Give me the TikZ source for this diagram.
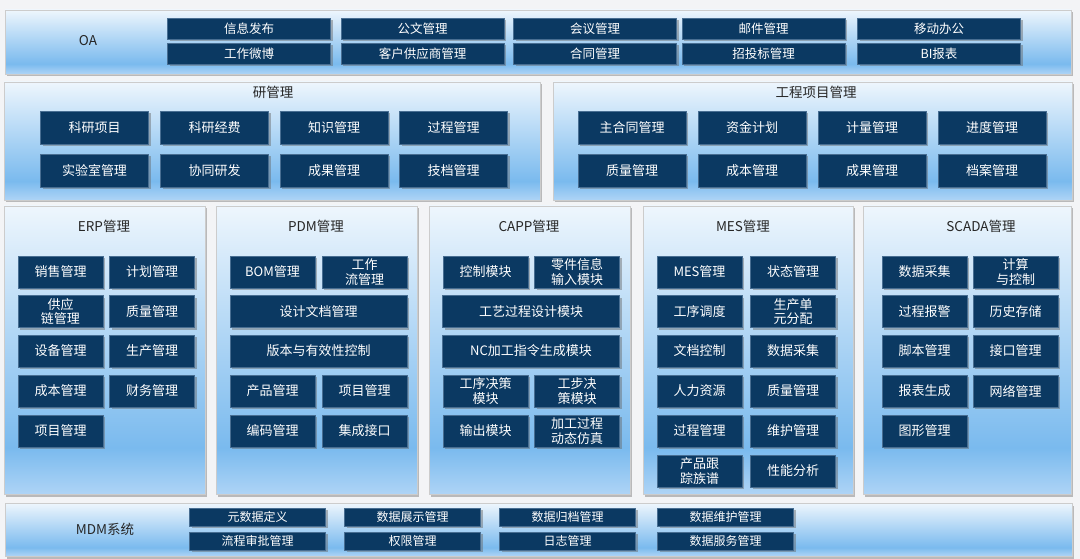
\documentclass[tikz,border=0pt]{standalone}
\usepackage{fontspec}
\setmainfont{Noto Sans CJK SC}
\usepackage{xcolor}
\usepackage{tikz}
\usetikzlibrary{shadows}
\definecolor{navy}{RGB}{11,57,98}
\definecolor{edgeblue}{RGB}{72,110,146}
\definecolor{paneltop}{RGB}{238,246,253}
\definecolor{panelmid}{RGB}{122,186,238}
\definecolor{panelbot}{RGB}{174,212,246}
\definecolor{pageback}{RGB}{243,244,246}
\pgfdeclareverticalshading{panelshade}{100bp}{color(0bp)=(panelbot); color(25bp)=(panelbot);
  color(33bp)=(panelmid); color(52bp)=(panelmid!55!paneltop); color(75bp)=(paneltop); color(100bp)=(paneltop)}

\begin{document}
\begin{tikzpicture}[x=1pt,y=-1pt,
  panel/.style={draw=gray!40, line width=.5pt, shading=panelshade,
    drop shadow={shadow xshift=2pt, shadow yshift=-2.5pt, fill=black!55, opacity=.45}},
  modbox/.style={draw=edgeblue, line width=.6pt, fill=navy, text=white, inner sep=0pt,
    align=center, minimum width=85pt, minimum height=32pt,
    font=\fontsize{13}{14.5}\selectfont,
    drop shadow={shadow xshift=2pt, shadow yshift=-2pt, fill=black!60, opacity=.45}},
  widebox/.style={modbox, minimum width=177pt},
  topbox/.style={modbox, minimum width=108pt, minimum height=33pt},
  oabox/.style={modbox, minimum width=163pt, minimum height=21pt, font=\fontsize{12.5}{14}\selectfont},
  mdmbox/.style={modbox, minimum width=136pt, minimum height=18pt, font=\fontsize{12}{13}\selectfont},
  title/.style={text=black!85, font=\fontsize{13.5}{15}\selectfont}]
  \useasboundingbox (0,0) rectangle (1080,559);
  \fill[pageback] (0,0) rectangle (1080,559);

  % panels
  \path[panel] (5,10) rectangle (1071,74);
  \path[panel] (4,82) rectangle (540,200);
  \path[panel] (553,82) rectangle (1072,200);
  \path[panel] (4,206) rectangle (205,494);
  \path[panel] (216,206) rectangle (417,494);
  \path[panel] (429,206) rectangle (630,494);
  \path[panel] (643,206) rectangle (853,494);
  \path[panel] (863,206) rectangle (1071,494);
  \path[panel] (5,503) rectangle (1072,556);

  % titles
  \node[title] (oaT) at (88,41) {OA};
  \node[title] (yanT) at (273,92) {研管理};
  \node[title] (gcT) at (816,92) {工程项目管理};
  \node[title] (erpT) at (104,226) {ERP管理};
  \node[title] (pdmT) at (316,226) {PDM管理};
  \node[title] (capT) at (529,226) {CAPP管理};
  \node[title] (mesT) at (743,226) {MES管理};
  \node[title] (scaT) at (981,226) {SCADA管理};
  \node[title] (mdmT) at (105,529) {MDM系统};

  % OA
  \foreach \nm/\xx/\yy/\txt in {oa1/249/29/信息发布, oa2/422.5/29/公文管理, oa3/595/29/会议管理,
      oa4/763.5/29/邮件管理, oa5/939/29/移动办公, oa6/249/54/工作微博, oa7/422.5/54/客户供应商管理,
      oa8/595/54/合同管理, oa9/763.5/54/招投标管理, oa10/939/54/BI报表}
    \node[oabox] (\nm) at (\xx,\yy) {\txt};

  % 研管理 / 工程项目管理
  \foreach \nm/\xx/\yy/\txt in {yan1/94.5/128/科研项目, yan2/214.5/128/科研经费, yan3/334/128/知识管理,
      yan4/453.5/128/过程管理, yan5/94.5/171/实验室管理, yan6/214.5/171/协同研发,
      yan7/334/171/成果管理, yan8/453.5/171/技档管理,
      gc1/632/128/主合同管理, gc2/752/128/资金计划, gc3/872/128/计量管理, gc4/992/128/进度管理,
      gc5/632/171/质量管理, gc6/752/171/成本管理, gc7/872/171/成果管理, gc8/992/171/档案管理}
    \node[topbox] (\nm) at (\xx,\yy) {\txt};

  % ERP
  \foreach \nm/\xx/\yy/\txt in {erp1/60.5/272/销售管理, erp2/152/272/计划管理,
      erp3/60.5/311.5/{供应\\链管理}, erp4/152/311.5/质量管理, erp5/60.5/351/设备管理,
      erp6/152/351/生产管理, erp7/60.5/391/成本管理, erp8/152/391/财务管理, erp9/60.5/431/项目管理}
    \node[modbox] (\nm) at (\xx,\yy) {\txt};

  % PDM
  \foreach \nm/\xx/\yy/\txt in {pdm1/272.5/272/BOM管理, pdm2/364.5/272/{工作\\流管理},
      pdm5/272.5/391/产品管理, pdm6/364.5/391/项目管理, pdm7/272.5/431/编码管理, pdm8/364.5/431/集成接口}
    \node[modbox] (\nm) at (\xx,\yy) {\txt};
  \node[widebox] (pdm3) at (318.5,311.5) {设计文档管理};
  \node[widebox] (pdm4) at (318.5,351) {版本与有效性控制};

  % CAPP
  \foreach \nm/\xx/\yy/\txt in {cap1/485.5/272/控制模块, cap2/577/272/{零件信息\\输入模块},
      cap5/485.5/391/{工序决策\\模块}, cap6/577/391/{工步决\\策模块},
      cap7/485.5/431/输出模块, cap8/577/431/{加工过程\\动态仿真}}
    \node[modbox] (\nm) at (\xx,\yy) {\txt};
  \node[widebox] (cap3) at (531,311.5) {工艺过程设计模块};
  \node[widebox] (cap4) at (531,351) {NC加工指令生成模块};

  % MES
  \foreach \nm/\xx/\yy/\txt in {mes1/699.5/272/MES管理, mes2/793/272/状态管理,
      mes3/699.5/311.5/工序调度, mes4/793/311.5/{生产单\\元分配}, mes5/699.5/351/文档控制,
      mes6/793/351/数据采集, mes7/699.5/391/人力资源, mes8/793/391/质量管理,
      mes9/699.5/431/过程管理, mes10/793/431/维护管理, mes11/699.5/471/{产品跟\\踪族谱},
      mes12/793/471/性能分析}
    \node[modbox] (\nm) at (\xx,\yy) {\txt};

  % SCADA
  \foreach \nm/\xx/\yy/\txt in {sca1/924.5/272/数据采集, sca2/1015.5/272/{计算\\与控制},
      sca3/924.5/311.5/过程报警, sca4/1015.5/311.5/历史存储, sca5/924.5/351/脚本管理,
      sca6/1015.5/351/接口管理, sca7/924.5/391/报表生成, sca8/1015.5/391/网络管理,
      sca9/924.5/431/图形管理}
    \node[modbox] (\nm) at (\xx,\yy) {\txt};

  % MDM
  \foreach \nm/\xx/\yy/\txt in {mdm1/257.5/517/元数据定义, mdm2/412.5/517/数据展示管理,
      mdm3/567.5/517/数据归档管理, mdm4/725.5/517/数据维护管理, mdm5/257.5/541/流程审批管理,
      mdm6/412.5/541/权限管理, mdm7/567.5/541/日志管理, mdm8/725.5/541/数据服务管理}
    \node[mdmbox] (\nm) at (\xx,\yy) {\txt};
\end{tikzpicture}
\end{document}
